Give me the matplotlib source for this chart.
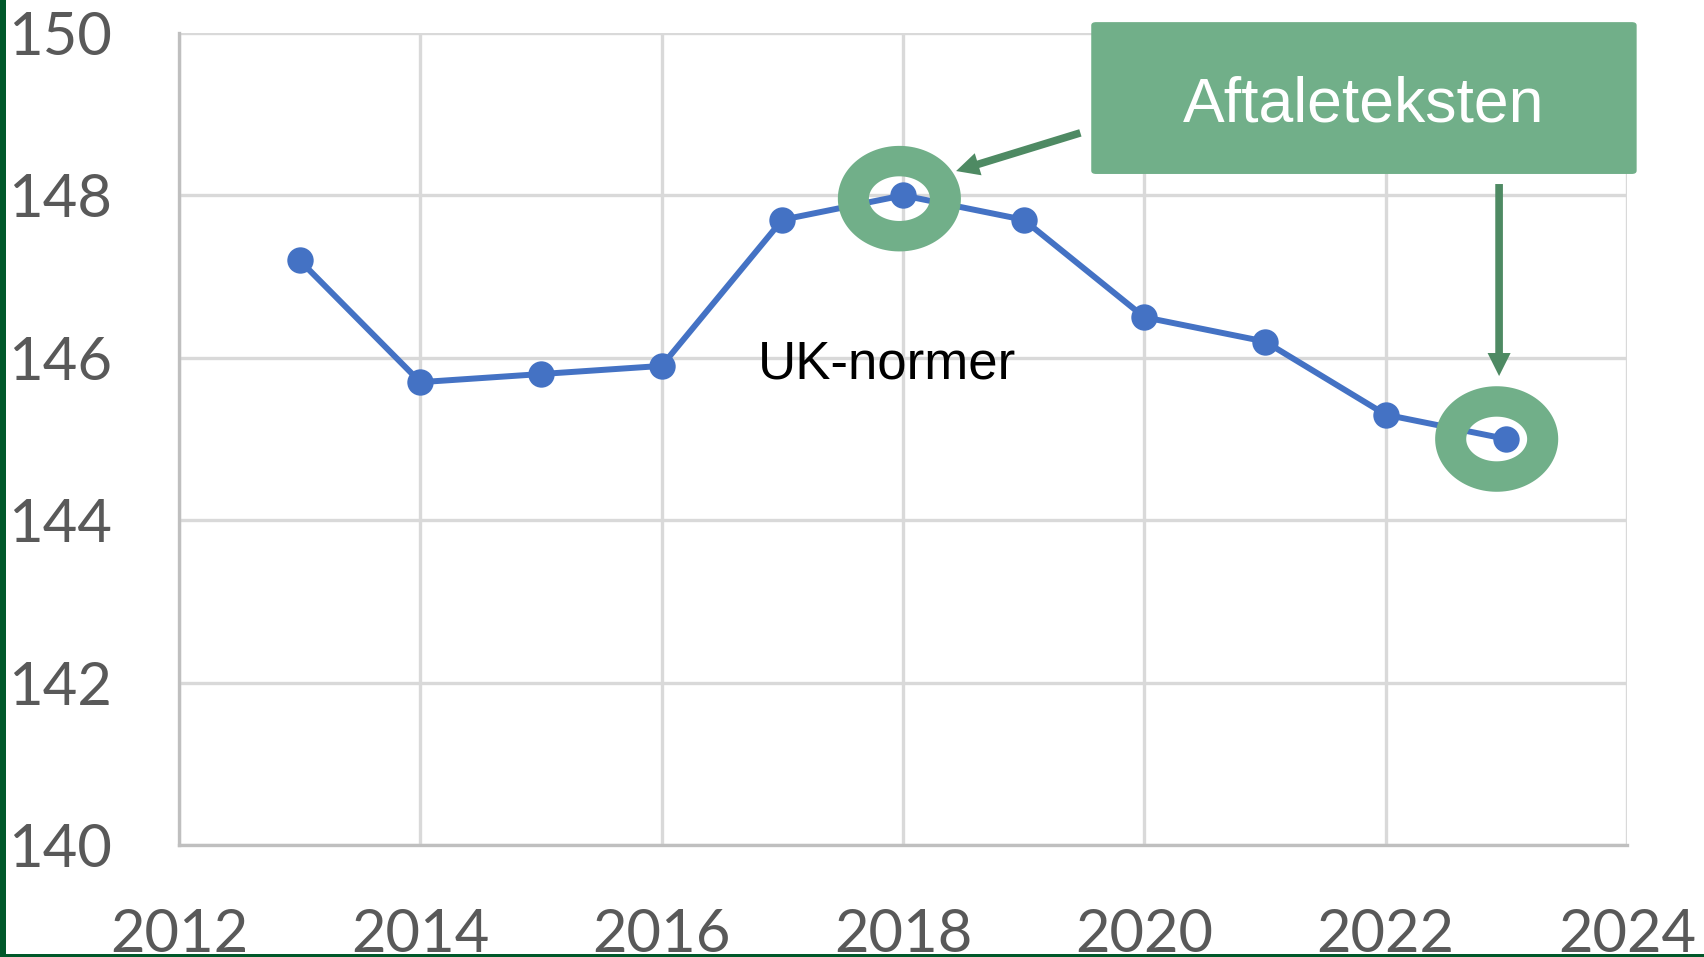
import numpy as np
import matplotlib
matplotlib.use("Agg")
import matplotlib.pyplot as plt
from matplotlib.path import Path
from matplotlib.patches import PathPatch, FancyBboxPatch, FancyArrowPatch, Rectangle

years = [2013, 2014, 2015, 2016, 2017, 2018, 2019, 2020, 2021, 2022, 2023]
values = [147.2, 145.7, 145.8, 145.9, 147.7, 148.0, 147.7, 146.5, 146.2, 145.3, 145.0]
x_ticks = [2012, 2014, 2016, 2018, 2020, 2022, 2024]
y_ticks = [140, 142, 144, 146, 148, 150]
box_label = "Aftaleteksten"
note_label = "UK-normer"

LINE_BLUE = "#4472C4"
RING_GREEN = "#71AF89"
ARROW_GREEN = "#4E8A63"
BORDER_GREEN = "#00582A"


def ring(ax, cx, cy, ow, oh, iw, ih, color):
    t = np.linspace(0, 2 * np.pi, 120)
    outer = np.column_stack([cx + ow / 2 * np.cos(t), cy + oh / 2 * np.sin(t)])
    inner = np.column_stack([cx + iw / 2 * np.cos(t[::-1]), cy + ih / 2 * np.sin(t[::-1])])
    verts = np.concatenate([outer, inner])
    codes = ([Path.MOVETO] + [Path.LINETO] * (len(t) - 2) + [Path.CLOSEPOLY]) * 2
    ax.add_patch(PathPatch(Path(verts, codes), facecolor=color, edgecolor="none", zorder=5))


fig = plt.figure(figsize=(17.04, 9.57), dpi=100)
ax = fig.add_axes([179 / 1704, 1 - 845 / 957, (1627 - 179) / 1704, (845 - 33) / 957])

ax.plot(years, values, color=LINE_BLUE, lw=4.3, marker="o", markersize=19,
        markeredgewidth=0, zorder=3)

ax.set_xlim(x_ticks[0], x_ticks[-1])
ax.set_ylim(y_ticks[0], y_ticks[-1])
ax.set_xticks(x_ticks)
ax.set_yticks(y_ticks)
ax.grid(True, color="#D9D9D9", lw=2.4, zorder=0)
ax.set_axisbelow(True)
for side in ("top", "right"):
    ax.spines[side].set_visible(False)
for side in ("left", "bottom"):
    ax.spines[side].set_color("#BFBFBF")
    ax.spines[side].set_linewidth(2.4)
ax.tick_params(length=0, labelsize=43, labelcolor="#595959")
ax.tick_params(axis="y", pad=48)
ax.tick_params(axis="x", pad=45)
for lab in ax.get_xticklabels() + ax.get_yticklabels():
    lab.set_family("Lato")

# rings around 2018 and 2023
ring(ax, years[5] - 0.03, values[5] - 0.04, 1.02, 1.30, 0.505, 0.55, RING_GREEN)
ring(ax, years[10] - 0.08, values[10], 1.02, 1.30, 0.505, 0.55, RING_GREEN)

# label box
box = FancyBboxPatch((2019.56, 148.264), 4.52, 1.87,
                     boxstyle="round,pad=0,rounding_size=0.04",
                     facecolor=RING_GREEN, edgecolor="none", clip_on=False, zorder=6)
ax.add_patch(box)
ax.text(2021.82, 148.904, box_label, color="white", fontsize=45,
        family="Liberation Sans", ha="center", va="baseline", zorder=7, clip_on=False)

ax.text(2017.867, 145.74, note_label, color="black", fontsize=38,
        family="Liberation Sans", ha="center", va="baseline", zorder=7)

# arrows
arrow_style = "simple,head_length=16.6,head_width=16.6,tail_width=5.5"
ax.add_patch(FancyArrowPatch((2019.47, 148.77), (2018.44, 148.30),
                             arrowstyle=arrow_style, mutation_scale=1,
                             shrinkA=0, shrinkB=0, color=ARROW_GREEN,
                             lw=0, zorder=6))
ax.add_patch(FancyArrowPatch((2022.94, 148.14), (2022.94, 145.775),
                             arrowstyle=arrow_style, mutation_scale=1,
                             shrinkA=0, shrinkB=0, color=ARROW_GREEN,
                             lw=0, zorder=6))

# slide border
fig.add_artist(Rectangle((0, 0), 6 / 1704, 1, transform=fig.transFigure,
                         facecolor=BORDER_GREEN, edgecolor="none"))
fig.add_artist(Rectangle((0, 0), 1, 3 / 957, transform=fig.transFigure,
                         facecolor=BORDER_GREEN, edgecolor="none"))

fig.savefig("out.png", dpi=100, facecolor="white")
